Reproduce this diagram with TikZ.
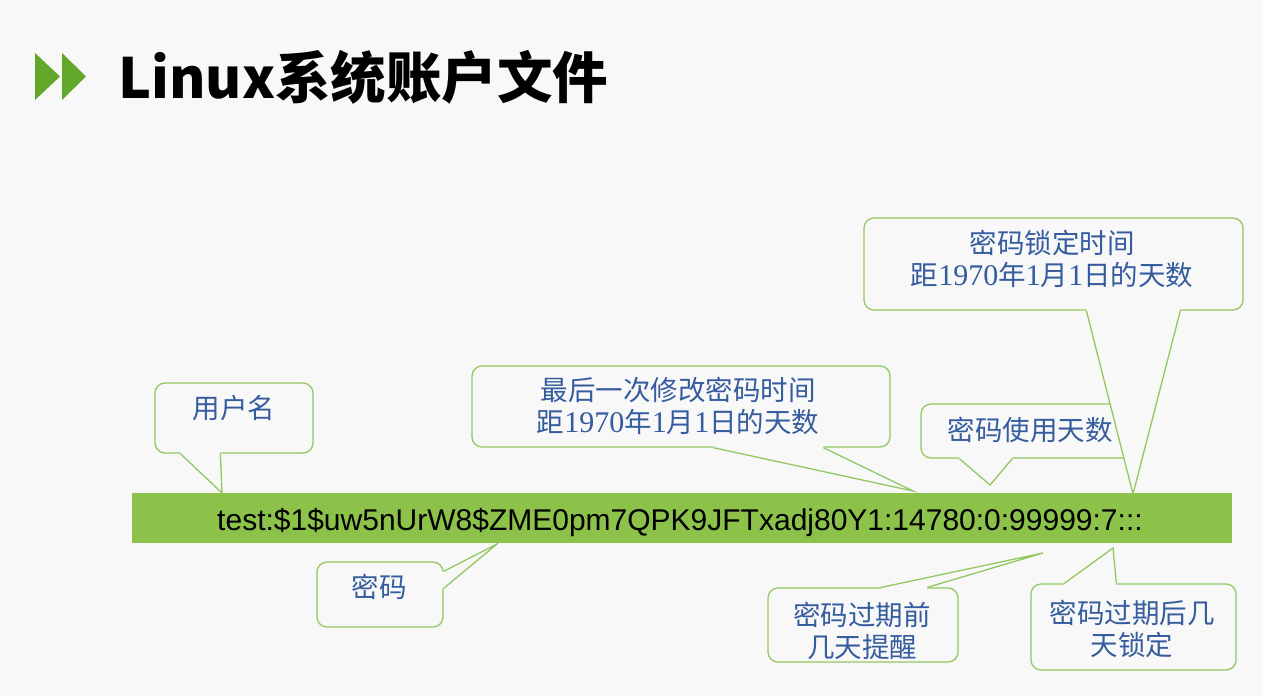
\documentclass[tikz,border=0pt]{standalone}
\usepackage{fontspec}
\setmainfont{Noto Sans CJK SC}
\newfontfamily\numfont{Liberation Serif}
\newfontfamily\barfont{Liberation Sans}
\definecolor{bgc}{RGB}{248,248,248}
\definecolor{edgec}{RGB}{146,200,96}
\definecolor{barc}{RGB}{140,194,74}
\definecolor{txtc}{RGB}{52,92,158}
\definecolor{arrc}{RGB}{98,168,42}
\newcommand\dnum[1]{{\numfont\fontsize{30}{32}\selectfont #1}}

\begin{document}
\begin{tikzpicture}[x=1pt,y=-1pt,
    bubble/.style={draw=edgec,fill=bgc,line width=1.3pt,rounded corners=10pt,inner sep=0pt},
    tail/.style={draw=edgec,line width=1.3pt},
    lbl/.style={text=txtc,font=\fontsize{27.5}{32}\selectfont,align=center,inner sep=0pt}]
  \fill[bgc] (0,0) rectangle (1263,696);
  \useasboundingbox (0,0) rectangle (1263,696);
  % title
  \fill[arrc] (35,53) -- (60,76.5) -- (35,100) -- cycle;
  \fill[arrc] (62,53) -- (86,76.5) -- (62,100) -- cycle;
  \node[anchor=base west,inner sep=0pt,font=\fontsize{55.5}{60}\selectfont\bfseries] (title) at (118,98) {Linux系统账户文件};
  % shadow line
  \node[fill=barc,minimum width=1100pt,minimum height=50pt,inner sep=0pt] (bar) at (682,518) {};
  \node[anchor=base,inner sep=0pt,font=\fontsize{30}{36}\barfont] (entry) at (680,530)
    {test:\$1\$uw5nUrW8\$ZME0pm7QPK9JFTxadj80Y1:14780:0:99999:7:::};

  % user name
  \node[bubble,minimum width=158pt,minimum height=70pt] (user) at (234,418) {};
  \coordinate (userA) at ([xshift=26pt]user.south west);
  \coordinate (userB) at ([xshift=66pt]user.south west);
  \coordinate (userTip) at (222,493);
  \fill[bgc] (userA) -- (userTip) -- (userB) -- ([yshift=3pt]userB) -- ([yshift=3pt]userA) -- cycle;
  \draw[tail] (userA) -- (userTip) -- (userB);

  % last change
  \node[bubble,minimum width=418pt,minimum height=81pt] (change) at (681,406.5) {};
  \coordinate (changeA) at ([xshift=242pt]change.south west);
  \coordinate (changeB) at ([xshift=352pt]change.south west);
  \coordinate (changeTip) at (913,491);
  \fill[bgc] (changeA) -- (changeTip) -- (changeB) -- ([yshift=3pt]changeB) -- ([yshift=3pt]changeA) -- cycle;
  \draw[tail] (changeA) -- (changeTip) -- (changeB);

  % max days
  \node[bubble,minimum width=214pt,minimum height=54pt] (maxd) at (1028,431) {};
  \coordinate (maxdA) at ([xshift=39pt]maxd.south west);
  \coordinate (maxdB) at ([xshift=92pt]maxd.south west);
  \coordinate (maxdTip) at (990,485);
  \fill[bgc] (maxdA) -- (maxdTip) -- (maxdB) -- ([yshift=3pt]maxdB) -- ([yshift=3pt]maxdA) -- cycle;
  \draw[tail] (maxdA) -- (maxdTip) -- (maxdB);

  % lock time
  \node[bubble,minimum width=379pt,minimum height=92pt] (lock) at (1053.5,264) {};
  \coordinate (lockA) at ([xshift=223pt]lock.south west);
  \coordinate (lockB) at ([xshift=317pt]lock.south west);
  \coordinate (lockTip) at (1133,494);
  \fill[bgc] (lockA) -- (lockTip) -- (lockB) -- ([yshift=3pt]lockB) -- ([yshift=3pt]lockA) -- cycle;
  \draw[tail] (lockA) -- (lockTip) -- (lockB);

  % password
  \node[bubble,minimum width=126pt,minimum height=65pt] (pwd) at (380,594.5) {};
  \coordinate (pwdA) at ([yshift=-10pt]pwd.north east);
  \coordinate (pwdB) at ([yshift=-27pt]pwd.north east);
  \coordinate (pwdTip) at (497,544);
  \fill[bgc] (pwdA) -- (pwdTip) -- (pwdB) -- ([xshift=-3pt]pwdB) -- ([xshift=-3pt]pwdA) -- cycle;
  \draw[tail] (pwdA) -- (pwdTip) -- (pwdB);

  % warn days
  \node[bubble,minimum width=190pt,minimum height=74pt] (warn) at (863,625) {};
  \coordinate (warnA) at ([xshift=114pt]warn.north west);
  \coordinate (warnB) at ([xshift=160pt]warn.north west);
  \coordinate (warnTip) at (1043,553);
  \fill[bgc] (warnA) -- (warnTip) -- (warnB) -- ([yshift=-3pt]warnB) -- ([yshift=-3pt]warnA) -- cycle;
  \draw[tail] (warnA) -- (warnTip) -- (warnB);

  % inactive days
  \node[bubble,minimum width=205pt,minimum height=86pt] (inact) at (1133.5,627) {};
  \coordinate (inactA) at ([xshift=34pt]inact.north west);
  \coordinate (inactB) at ([xshift=86pt]inact.north west);
  \coordinate (inactTip) at (1113,548);
  \fill[bgc] (inactA) -- (inactTip) -- (inactB) -- ([yshift=-3pt]inactB) -- ([yshift=-3pt]inactA) -- cycle;
  \draw[tail] (inactA) -- (inactTip) -- (inactB);

  % labels
  \node[lbl] (userTxt) at (234,408) {用户名};
  \node[lbl] (changeTxt) at (678,406) {最后一次修改密码时间\\距\dnum{1970}年\dnum{1}月\dnum{1}日的天数};
  \node[lbl] (maxdTxt) at (1030,430) {密码使用天数};
  \node[lbl] (lockTxt) at (1052,259) {密码锁定时间\\距\dnum{1970}年\dnum{1}月\dnum{1}日的天数};
  \node[lbl] (pwdTxt) at (379,587) {密码};
  \node[lbl] (warnTxt) at (862,631) {密码过期前\\几天提醒};
  \node[lbl] (inactTxt) at (1132,629) {密码过期后几\\天锁定};
\end{tikzpicture}
\end{document}
